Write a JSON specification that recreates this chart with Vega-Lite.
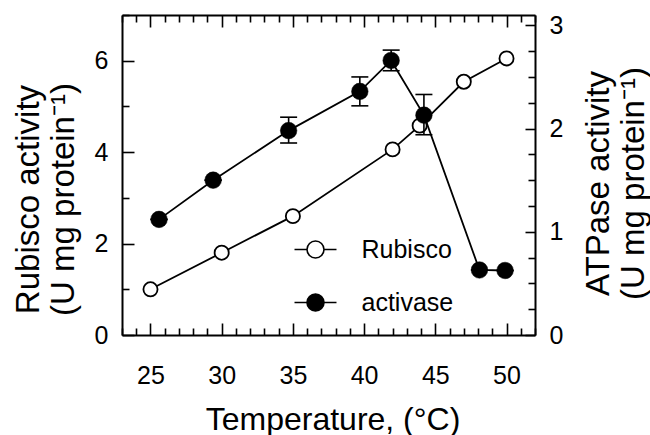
{
 "$schema": "https://vega.github.io/schema/vega-lite/v6.json",
 "width": 413,
 "height": 320,
 "autosize": {"type": "none"},
 "padding": {"left": 122, "top": 15, "right": 115, "bottom": 100},
 "background": "white",
 "config": {
  "font": "Liberation Sans",
  "view": {"stroke": null},
  "axis": {"grid": false, "domainColor": "black", "domainWidth": 2, "tickColor": "black", "tickWidth": 1.6, "labelColor": "black", "labelFont": "Liberation Sans", "labelFontSize": 25, "titleFont": "Liberation Sans", "titleFontSize": 33, "titleFontWeight": "normal", "titleColor": "black", "labelOverlap": false, "labelFlush": false, "labelBound": false, "titleLineHeight": 35}
 },
 "layer": [
  {
   "data": {"values": [
    {"t": 25, "v": 1.0, "series": "Rubisco"},
    {"t": 30, "v": 1.8, "series": "Rubisco"},
    {"t": 35, "v": 2.6, "series": "Rubisco"},
    {"t": 42, "v": 4.06, "series": "Rubisco"},
    {"t": 43.9, "v": 4.58, "series": "Rubisco"},
    {"t": 47, "v": 5.54, "series": "Rubisco"},
    {"t": 50, "v": 6.05, "series": "Rubisco"}
   ]},
   "encoding": {
    "x": {"field": "t", "type": "quantitative", "scale": {"domain": [23, 52], "nice": false, "zero": false},
     "axis": {"orient": "bottom", "values": [23,24,25,26,27,28,29,30,31,32,33,34,35,36,37,38,39,40,41,42,43,44,45,46,47,48,49,50,51,52],
      "tickSize": {"condition": {"test": "datum.value % 5 === 0", "value": -12}, "value": -7},
      "labelExpr": "datum.value % 5 === 0 ? '' + datum.value : ''", "labelPadding": 40,
      "title": "Temperature, (°C)", "titleFontSize": 32, "titleX": 210.5, "titleY": 94, "titleAlign": "center", "titleBaseline": "alphabetic"}},
    "y": {"field": "v", "type": "quantitative", "scale": {"domain": [0, 7], "nice": false, "zero": false},
     "axis": {"orient": "left", "values": [0,1,2,3,4,5,6,7],
      "tickSize": {"condition": {"test": "datum.value % 2 === 0", "value": -12}, "value": -7},
      "labelExpr": "datum.value % 2 === 0 && datum.value < 7 ? '' + datum.value : ''", "labelPadding": 26,
      "title": ["Rubisco activity", "(U mg protein⁻¹)"], "titleAngle": 270, "titleX": -84, "titleY": 184, "titleAlign": "center", "titleBaseline": "alphabetic"}}
   },
   "layer": [
    {"mark": {"type": "line", "stroke": "black", "strokeWidth": 1.8}},
    {"mark": {"type": "point", "shape": "circle", "size": 200, "stroke": "black", "strokeWidth": 1.8, "opacity": 1, "filled": true},
     "encoding": {"fill": {"field": "series", "type": "nominal", "scale": {"domain": ["Rubisco", "activase"], "range": ["white", "black"]},
      "legend": {"orient": "none", "legendX": 181, "legendY": 222, "title": null, "padding": 0,
       "symbolType": "M-2.47,0L-1,0M1,0L2.47,0M1,0C1,0.5523 0.5523,1 0,1C-0.5523,1 -1,0.5523 -1,0C-1,-0.5523 -0.5523,-1 0,-1C0.5523,-1 1,-0.5523 1,0Z",
       "symbolSize": 289, "symbolStrokeColor": "black", "symbolStrokeWidth": 1.6, "symbolOpacity": 1,
       "labelFontSize": 25, "labelFont": "Liberation Sans", "labelColor": "black", "labelOffset": 33.5, "rowPadding": 27}}}}
   ]
  },
  {
   "data": {"values": [
    {"t": 25.6, "v": 1.12, "lo": 1.12, "hi": 1.12, "series": "activase"},
    {"t": 29.4, "v": 1.5, "lo": 1.5, "hi": 1.5, "series": "activase"},
    {"t": 34.7, "v": 1.98, "lo": 1.86, "hi": 2.11, "series": "activase"},
    {"t": 39.7, "v": 2.36, "lo": 2.22, "hi": 2.5, "series": "activase"},
    {"t": 41.9, "v": 2.66, "lo": 2.56, "hi": 2.76, "series": "activase"},
    {"t": 44.2, "v": 2.13, "lo": 1.94, "hi": 2.33, "series": "activase"},
    {"t": 48.1, "v": 0.63, "lo": 0.63, "hi": 0.63, "series": "activase"},
    {"t": 49.9, "v": 0.625, "lo": 0.625, "hi": 0.625, "series": "activase"}
   ]},
   "encoding": {
    "x": {"field": "t", "type": "quantitative", "scale": {"domain": [23, 52], "nice": false, "zero": false},
     "axis": {"orient": "top", "values": [23,24,25,26,27,28,29,30,31,32,33,34,35,36,37,38,39,40,41,42,43,44,45,46,47,48,49,50,51,52],
      "tickSize": {"condition": {"test": "datum.value % 5 === 0", "value": -12}, "value": -7},
      "labels": false, "title": null}},
    "y": {"field": "v", "type": "quantitative", "scale": {"domain": [0, 3.1], "nice": false, "zero": false},
     "axis": {"orient": "right", "values": [0,0.25,0.5,0.75,1,1.25,1.5,1.75,2,2.25,2.5,2.75,3],
      "tickSize": {"condition": {"test": "datum.value % 1 === 0", "value": -10}, "value": -7},
      "labelExpr": "datum.value % 1 === 0 ? '' + datum.value : ''", "labelPadding": 24,
      "title": ["ATPase activity", "(U mg protein⁻¹)"], "titleAngle": 270, "titleX": 73, "titleY": 168, "titleAlign": "center", "titleBaseline": "alphabetic"}}
   },
   "layer": [
    {"mark": {"type": "rule", "stroke": "black", "strokeWidth": 1.6},
     "encoding": {"y": {"field": "lo", "type": "quantitative", "scale": {"domain": [0, 3.1], "nice": false, "zero": false}}, "y2": {"field": "hi"}}},
    {"mark": {"type": "tick", "orient": "horizontal", "size": 17, "thickness": 1.6, "color": "black", "opacity": 1},
     "encoding": {"y": {"field": "lo", "type": "quantitative", "scale": {"domain": [0, 3.1], "nice": false, "zero": false}}}},
    {"mark": {"type": "tick", "orient": "horizontal", "size": 17, "thickness": 1.6, "color": "black", "opacity": 1},
     "encoding": {"y": {"field": "hi", "type": "quantitative", "scale": {"domain": [0, 3.1], "nice": false, "zero": false}}}},
    {"mark": {"type": "line", "stroke": "black", "strokeWidth": 1.8}},
    {"mark": {"type": "point", "shape": "circle", "size": 275, "stroke": "black", "strokeWidth": 0.5, "opacity": 1, "filled": true},
     "encoding": {"fill": {"field": "series", "type": "nominal", "scale": {"domain": ["Rubisco", "activase"], "range": ["white", "black"]}, "legend": null}}}
   ]
  }
 ],
 "resolve": {"scale": {"y": "independent"}, "axis": {"x": "independent", "y": "independent"}}
}
